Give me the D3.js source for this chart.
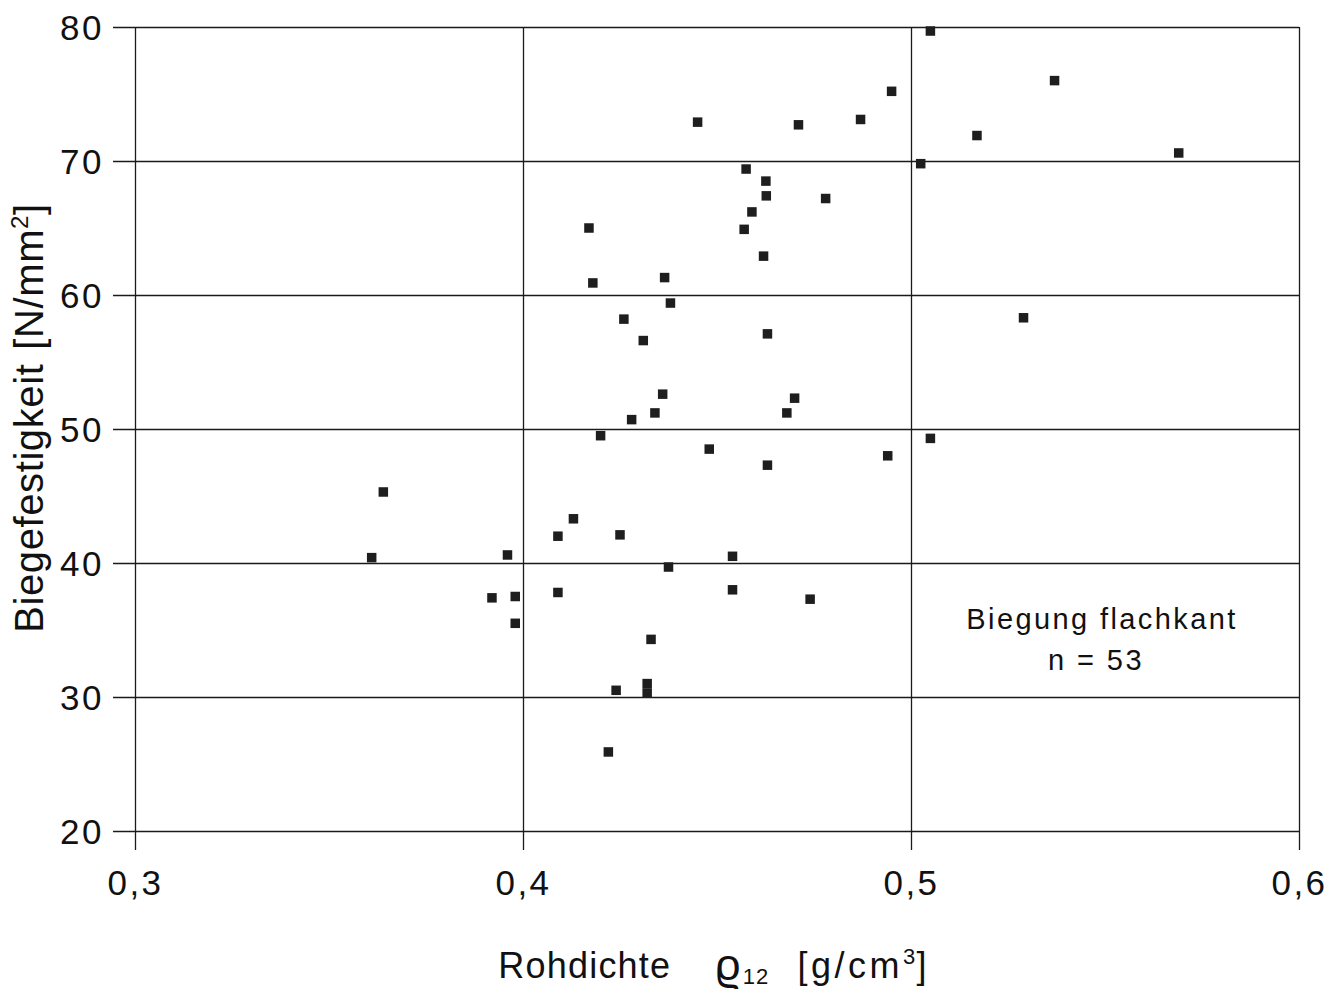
<!DOCTYPE html>
<html>
<head>
<meta charset="utf-8">
<script src="https://cdn.jsdelivr.net/npm/d3@7"></script>
<style>
  html, body { margin: 0; padding: 0; background: #fff; }
  svg { display: block; }
  text { font-family: "Liberation Sans", Arial, sans-serif; fill: #111; }
</style>
</head>
<body>
<svg id="chart" width="1342" height="996"></svg>
<script>
// Rohdichte rho12 [g/cm3]
const density = [
  0.434, 0.428, 0.420, 0.364, 0.413, 0.409, 0.425, 0.361, 0.396, 0.4375,
  0.409, 0.392, 0.398, 0.398, 0.433, 0.424, 0.432, 0.432, 0.422, 0.445,
  0.471, 0.487, 0.5025, 0.4575, 0.4626, 0.4627, 0.478, 0.459, 0.417, 0.457,
  0.462, 0.418, 0.4365, 0.438, 0.426, 0.431, 0.463, 0.436, 0.470, 0.468,
  0.448, 0.463, 0.494, 0.505, 0.505, 0.537, 0.495, 0.517, 0.569, 0.529,
  0.454, 0.454, 0.474
];
// Biegefestigkeit [N/mm2]
const strength = [
  51.2, 50.7, 49.5, 45.3, 43.3, 42.0, 42.1, 40.4, 40.6, 39.7,
  37.8, 37.4, 37.5, 35.5, 34.3, 30.5, 31.0, 30.3, 25.9, 72.9,
  72.7, 73.1, 69.8, 69.4, 68.5, 67.4, 67.2, 66.2, 65.0, 64.9,
  62.9, 60.9, 61.3, 59.4, 58.2, 56.6, 57.1, 52.6, 52.3, 51.2,
  48.5, 47.3, 48.0, 49.3, 79.7, 76.0, 75.2, 71.9, 70.6, 58.3,
  40.5, 38.0, 37.3
];
const xTicks = [0.3, 0.4, 0.5, 0.6];
const xTickLabels = ["0,3", "0,4", "0,5", "0,6"];
const yTicks = [20, 30, 40, 50, 60, 70, 80];
const annotation = ["Biegung flachkant", "n = 53"];

const svg = d3.select("#chart");
const pLeft = 135, pRight = 1299, pTop = 27, pBottom = 831;
const x = d3.scaleLinear().domain([0.3, 0.6]).range([pLeft, pRight]);
const y = d3.scaleLinear().domain([20, 80]).range([pBottom, pTop]);

const lineColor = "#1a1a1a";

// horizontal gridlines (with tick stubs to the left)
const yAxis = d3.axisLeft(y).tickValues(yTicks).tickSize(-(pRight - pLeft)).tickPadding(30)
  .tickFormat(d3.format("d"));
const gy = svg.append("g").attr("transform", `translate(${pLeft},0)`).call(yAxis);
gy.select(".domain").remove();
gy.selectAll(".tick line").attr("x1", -22).attr("stroke", lineColor).attr("stroke-width", 1.3);
gy.selectAll(".tick text")
  .attr("x", -31)
  .attr("dy", "0.36em")
  .style("font-family", "Liberation Sans, Arial, sans-serif")
  .style("font-size", "35px")
  .style("letter-spacing", "2.5px")
  .attr("fill", "#111");

// vertical gridlines (with tick stubs below)
const xAxis = d3.axisBottom(x).tickValues(xTicks).tickSize(-(pBottom - pTop)).tickPadding(32)
  .tickFormat((d, i) => xTickLabels[i]);
const gx = svg.append("g").attr("transform", `translate(0,${pBottom})`).call(xAxis);
gx.select(".domain").remove();
gx.selectAll(".tick line").attr("y1", 19).attr("stroke", lineColor).attr("stroke-width", 1.3);
gx.selectAll(".tick text")
  .attr("y", 39)
  .style("font-family", "Liberation Sans, Arial, sans-serif")
  .style("font-size", "35px")
  .style("letter-spacing", "2.5px")
  .attr("fill", "#111");

// points
const sz = 9.5;
svg.append("g").selectAll("rect")
  .data(density.map((d, i) => [d, strength[i]]))
  .join("rect")
  .attr("x", d => x(d[0]) - sz / 2)
  .attr("y", d => y(d[1]) - sz / 2)
  .attr("width", sz)
  .attr("height", sz)
  .attr("fill", "#1e1e1e");

// annotation
svg.append("text")
  .attr("x", 1102).attr("y", 629)
  .attr("text-anchor", "middle")
  .style("font-size", "29px")
  .style("letter-spacing", "2.4px")
  .text(annotation[0]);
svg.append("text")
  .attr("x", 1096).attr("y", 670)
  .attr("text-anchor", "middle")
  .style("font-size", "29px")
  .style("letter-spacing", "2.4px")
  .style("white-space", "pre")
  .text(annotation[1]);

// x axis title
const xt = svg.append("text")
  .attr("x", 713).attr("y", 978)
  .attr("text-anchor", "middle")
  .style("font-size", "36px")
  .style("letter-spacing", "1.2px");
xt.append("tspan").text("Rohdichte");
xt.append("tspan").attr("dx", 44).attr("dy", 2).style("font-size", "44px").text("\u03F1");
xt.append("tspan").attr("dx", 1).attr("dy", 4).style("font-size", "22px").text("12");
xt.append("tspan").attr("dx", 28).attr("dy", -6).style("letter-spacing", "3.5px").text("[g/cm");
xt.append("tspan").attr("dy", -14).style("font-size", "22px").text("3");
xt.append("tspan").attr("dy", 14).text("]");

// y axis title
const yt = svg.append("text")
  .attr("transform", "translate(43,418) rotate(-90)")
  .attr("text-anchor", "middle")
  .style("font-size", "40px")
  .style("letter-spacing", "0.6px");
yt.append("tspan").text("Biegefestigkeit");
yt.append("tspan").attr("dx", 14).text("[N/mm");
yt.append("tspan").attr("dy", -15).style("font-size", "24px").text("2");
yt.append("tspan").attr("dy", 15).text("]");
</script>
</body>
</html>
